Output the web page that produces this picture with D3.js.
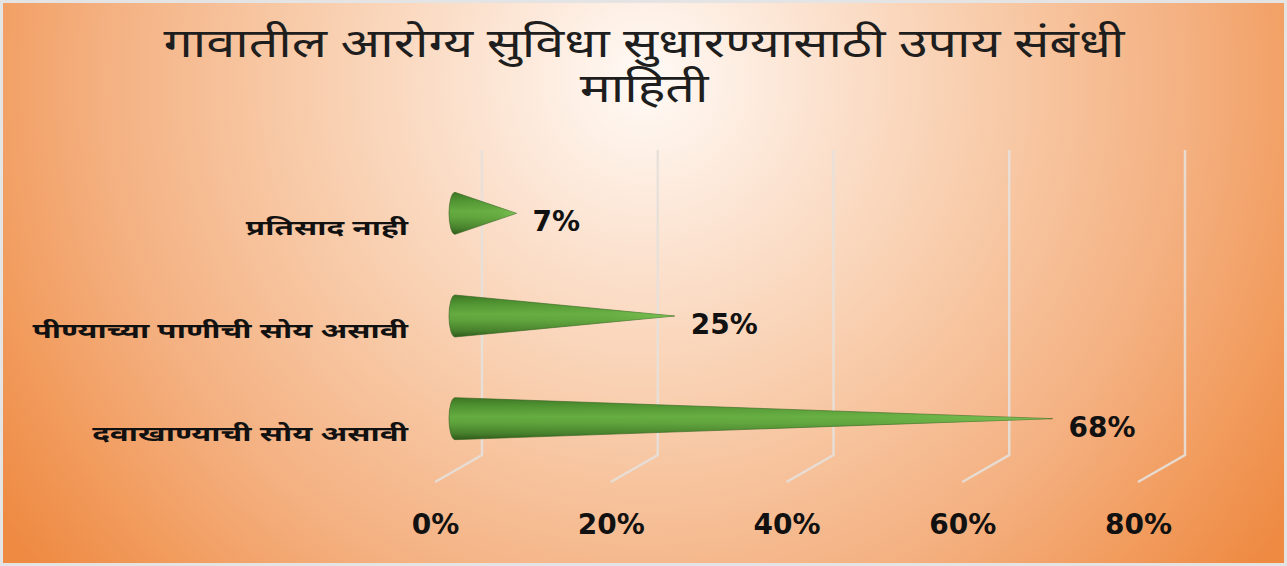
<!DOCTYPE html>
<html><head><meta charset="utf-8">
<script src="https://cdn.jsdelivr.net/npm/d3@7/dist/d3.min.js"></script>
<style>
html,body{margin:0;padding:0;background:#fff;}
svg{display:block;}
</style></head>
<body>
<svg id="chart" width="1287" height="566"></svg>
<script>
const titleLines = ["गावातील आरोग्य सुविधा सुधारण्यासाठी उपाय संबंधी", "माहिती"];
const categories = ["प्रतिसाद नाही", "पीण्याच्या पाणीची सोय असावी", "दवाखाण्याची सोय असावी"];
const values = [7, 25, 68];
const tickValues = [0, 20, 40, 60, 80];

const W = 1287, H = 566;
const svg = d3.select("#chart");
const defs = svg.append("defs");
const devFont = "'Noto Sans Devanagari','Lohit Devanagari','Mangal','Noto Sans',sans-serif";
const numFont = "'DejaVu Sans',sans-serif";

// background gradient
const bg = defs.append("radialGradient").attr("id","bg")
  .attr("gradientUnits","userSpaceOnUse").attr("cx",645).attr("cy",80).attr("r",780)
  .attr("fx",645).attr("fy",80);
[[0,"#fffaf6"],[0.15,"#fdeadc"],[0.45,"#f8cba9"],[0.7,"#f4b080"],[0.85,"#f29d60"],[1,"#ee8a42"]]
  .forEach(([o,c])=>bg.append("stop").attr("offset",o).attr("stop-color",c));

svg.append("rect").attr("x",0).attr("y",0).attr("width",W).attr("height",H).attr("fill","#e4e4e4");
svg.append("rect").attr("x",3).attr("y",3).attr("width",W-6).attr("height",H-6).attr("fill","url(#bg)");

// cone gradients
const cg = defs.append("linearGradient").attr("id","coneV").attr("x1",0).attr("y1",0).attr("x2",0).attr("y2",1);
[[0,"#3c7424"],[0.2,"#4f9331"],[0.45,"#64ab40"],[0.6,"#5ea23b"],[0.85,"#467f2b"],[1,"#2f5a1a"]]
  .forEach(([o,c])=>cg.append("stop").attr("offset",o).attr("stop-color",c));
const ch = defs.append("linearGradient").attr("id","coneH").attr("x1",0).attr("y1",0).attr("x2",1).attr("y2",0);
[[0,"rgba(130,200,90,0)"],[0.7,"rgba(130,200,90,0.15)"],[1,"rgba(140,210,100,0.55)"]]
  .forEach(([o,c])=>ch.append("stop").attr("offset",o).attr("stop-color",c));

// scales
const x = d3.scaleLinear().domain([0,80]).range([455, 1158]);
const depthBack = 27, depthFront = -20;
const xBack = v => x(v) + depthBack;
const xFront = d3.scaleLinear().domain([0,80]).range([455+depthFront, 1158+depthFront]);
const y = d3.scaleBand().domain(categories).range([162, 470]).padding(0);
const cy = c => y(c) + y.bandwidth()/2;
const wallTop = 150, wallBottom = 455, floorFront = 482;

// gridlines (back wall + floor)
svg.append("g").selectAll("path").data(tickValues).join("path")
  .attr("d", v => `M${xBack(v)},${wallTop} L${xBack(v)},${wallBottom} L${xFront(v)},${floorFront}`)
  .attr("fill","none").attr("stroke","#e6e0da").attr("stroke-width",2.5).attr("stroke-opacity",0.9);

// cones
const R = 21, rx = 6;
const coneG = svg.append("g");
const conePath = (v,c) => {
  const x0 = x(0), xt = x(v), yc = cy(c);
  return `M${x0},${yc-R} L${xt},${yc} L${x0},${yc+R} A${rx},${R} 0 0 1 ${x0},${yc-R} Z`;
};
const data = categories.map((c,i)=>({c, v: values[i]}));
coneG.selectAll("path.cone").data(data).join("path").attr("class","cone")
  .attr("d", d=>conePath(d.v,d.c)).attr("fill","url(#coneV)")
  .attr("stroke","#335f1f").attr("stroke-width",0.6);
coneG.selectAll("path.hl").data(data).join("path").attr("class","hl")
  .attr("d", d=>conePath(d.v,d.c)).attr("fill","url(#coneH)");

// value labels
svg.append("g").selectAll("text").data(data).join("text")
  .attr("x", d=>x(d.v)+16).attr("y", d=>cy(d.c)+18)
  .attr("font-family",numFont).attr("font-weight","bold").attr("font-size",28)
  .attr("fill","#111").text(d=>d.v+"%");

// category labels (wide Devanagari face, emulated by horizontal stretch)
svg.append("g").selectAll("text").data(categories).join("text")
  .attr("transform", c=>`translate(408,${cy(c)+22}) scale(1.5,1)`)
  .attr("text-anchor","end")
  .attr("font-family",devFont).attr("font-weight","bold").attr("font-size",21)
  .attr("fill","#111").text(c=>c);

// x axis
const axis = d3.axisBottom(xFront).tickValues(tickValues).tickSize(0).tickFormat(d=>d+"%");
const ag = svg.append("g").attr("transform","translate(0,534)").call(axis);
ag.select(".domain").remove();
ag.selectAll("text").attr("y",0).attr("dy",0)
  .attr("font-family",numFont).attr("font-weight","bold").attr("font-size",28).attr("fill","#111");

// title
svg.append("g").selectAll("text").data(titleLines).join("text")
  .attr("transform",(d,i)=>`translate(644,${i===0 ? 57 : 102}) scale(1.3,1)`)
  .attr("text-anchor","middle").attr("font-family",devFont).attr("font-size",40)
  .attr("fill","#1e1e1e").text(d=>d);
</script>
</body></html>
